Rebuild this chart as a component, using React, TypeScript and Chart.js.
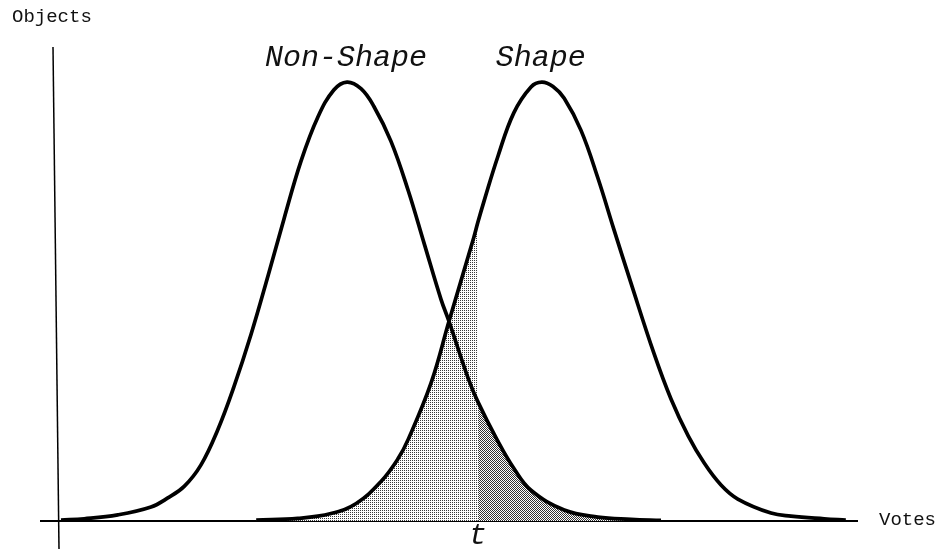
import { useEffect, useRef } from "react";
import { Chart, registerables } from "chart.js";

Chart.register(...registerables);

// Vote counts (horizontal) and object counts (vertical) for the two classes.
const nonShapeVotes = [0.5, 3.4, 7.6, 11.75, 13.8, 15.9, 18, 20.1, 22.1, 24.25, 26.4, 28.4, 30.5, 32.6, 34.6, 36.25, 38, 39.6, 41.75, 43.9, 45.9, 48, 49, 51.4, 52.6, 55.1, 57.1, 59.25, 63.4, 67.6, 71.75, 75.5];
const nonShapeObjects = [0.2, 0.5, 1.4, 3.2, 5.2, 7.9, 12.8, 20.8, 30.5, 42.5, 56, 69, 82, 92, 98.2, 100, 98.5, 94.5, 86.5, 75.3, 63.2, 50.5, 45.5, 32.5, 27.2, 18.2, 12, 7, 2.5, 0.9, 0.4, 0.15];

const shapeVotes = [24.9, 30.1, 34.25, 37.4, 40.5, 42.6, 43.9, 46.75, 49, 52.1, 52.6, 53.4, 55.1, 57.1, 59.25, 60.6, 62, 63.4, 65.5, 67.6, 69.6, 71.75, 74.6, 76.75, 78.9, 80.9, 83, 85.1, 89.25, 91.75, 95.9, 98.6];
const shapeObjects = [0.2, 0.6, 1.7, 4, 9, 14.1, 18.6, 31.4, 45.5, 64.6, 68, 73, 83, 93, 98.9, 100, 99, 96.3, 89, 78.2, 66.5, 54.2, 38.3, 27.8, 19.4, 13.2, 8.2, 5, 1.8, 1.1, 0.5, 0.2];

// Decision threshold on the vote count.
const threshold = 52.6;
const thresholdLabel = "t";

const seriesNames = ["Non-Shape", "Shape"];
const xTitle = "Votes";
const yTitle = "Objects";

const voteRange = [0, 100];
const objectRange = [0, 108];

const toPoints = (xs: number[], ys: number[]) => xs.map((x, i) => ({ x, y: ys[i] }));

function makeStipple(cells: [number, number][], size: number, color: string) {
  const tile = document.createElement("canvas");
  tile.width = size;
  tile.height = size;
  const c = tile.getContext("2d")!;
  c.fillStyle = "#ffffff";
  c.fillRect(0, 0, size, size);
  c.fillStyle = color;
  cells.forEach(([cx, cy]) => c.fillRect(cx, cy, 1, 1));
  return c.createPattern(tile, "repeat")!;
}

const MONO = '"Liberation Mono", "DejaVu Sans Mono", monospace';

const annotations = {
  id: "annotations",
  beforeDatasetsDraw(chart: any) {
    const { ctx, chartArea } = chart;
    const y0 = chart.scales.y.getPixelForValue(0);
    ctx.save();
    ctx.strokeStyle = "#000";
    // horizontal axis
    ctx.lineWidth = 2;
    ctx.beginPath();
    ctx.moveTo(chartArea.left - 17, y0);
    ctx.lineTo(chartArea.right + 1, y0);
    ctx.stroke();
    // vertical axis (slightly leaning, as drawn by hand)
    ctx.lineWidth = 1.5;
    ctx.beginPath();
    ctx.moveTo(chartArea.left - 4, chartArea.top);
    ctx.lineTo(chartArea.left + 2, chart.height);
    ctx.stroke();
    ctx.restore();
  },
  afterDraw(chart: any) {
    const { ctx, chartArea } = chart;
    const xs = chart.scales.x;
    const ys = chart.scales.y;
    ctx.save();
    ctx.fillStyle = "#111";

    ctx.font = `19px ${MONO}`;
    ctx.textAlign = "left";
    ctx.textBaseline = "alphabetic";
    ctx.fillText(yTitle, 12, 22);
    ctx.textBaseline = "middle";
    ctx.fillText(xTitle, chartArea.right + 22, ys.getPixelForValue(0) - 1);

    ctx.font = `italic 30px ${MONO}`;
    ctx.textAlign = "center";
    ctx.textBaseline = "alphabetic";
    const peaks = [
      [nonShapeVotes, nonShapeObjects],
      [shapeVotes, shapeObjects],
    ];
    peaks.forEach(([vx, vy], i) => {
      const top = Math.max(...vy);
      const at = vx[vy.indexOf(top)];
      ctx.fillText(seriesNames[i], xs.getPixelForValue(at) - 1, ys.getPixelForValue(top) - 16);
    });
    ctx.fillText(thresholdLabel, xs.getPixelForValue(threshold), chartArea.bottom + 23);
    ctx.restore();
  },
};

export default function App() {
  const ref = useRef<HTMLCanvasElement | null>(null);

  useEffect(() => {
    if (!ref.current) return;
    const light = makeStipple([[0, 0]], 2, "#3a3a3a");
    const dark = makeStipple([[0, 0], [1, 1]], 2, "#333333");

    const nonShape = toPoints(nonShapeVotes, nonShapeObjects);
    const shape = toPoints(shapeVotes, shapeObjects);

    const curve = (label: string, data: { x: number; y: number }[]) => ({
      label,
      data,
      borderColor: "#000",
      borderWidth: 3.7,
      fill: false,
      pointRadius: 0,
      tension: 0.4,
      order: 0,
    });
    const area = (label: string, data: { x: number; y: number }[], bg: CanvasPattern) => ({
      label,
      data,
      borderWidth: 0,
      borderColor: "rgba(0,0,0,0)",
      backgroundColor: bg,
      fill: "origin",
      pointRadius: 0,
      tension: 0.4,
      order: 5,
    });

    const chart = new Chart(ref.current, {
      type: "line",
      data: {
        datasets: [
          curve(seriesNames[0], nonShape),
          curve(seriesNames[1], shape),
          area("shape below t", shape.filter((p) => p.x <= threshold), light),
          area("non-shape above t", nonShape.filter((p) => p.x >= threshold), dark),
        ],
      },
      options: {
        responsive: false,
        animation: false,
        layout: { padding: { left: 57, right: 82, top: 47, bottom: 28 } },
        plugins: { legend: { display: false }, tooltip: { enabled: false } },
        scales: {
          x: { type: "linear", min: voteRange[0], max: voteRange[1], display: false },
          y: { min: objectRange[0], max: objectRange[1], display: false },
        },
      },
      plugins: [annotations],
    });
    return () => chart.destroy();
  }, []);

  return (
    <div style={{ position: "fixed", left: 0, top: 0, width: 939, height: 549, background: "#fff" }}>
      <canvas ref={ref} width={939} height={549} style={{ display: "block" }} />
    </div>
  );
}
